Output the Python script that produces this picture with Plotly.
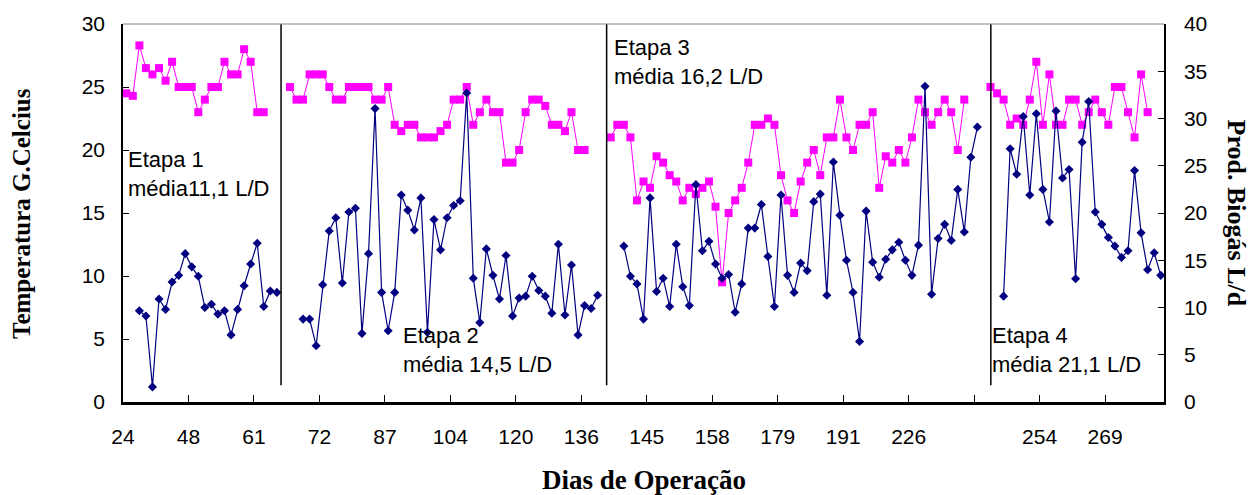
import plotly.graph_objects as go

# ---------------- data ----------------
n_categories = 159
tick_every = 10
tick_labels = ["24", "48", "61", "72", "87", "104", "120", "136", "145",
               "158", "179", "191", "226", "", "254", "269"]

# Temperatura (°C) per stage - left axis
temp_stage1 = [24.5, 24.3, 28.3, 26.5, 26.0, 26.5, 25.5, 27.0, 25.0, 25.0, 25.0,
               23.0, 24.0, 25.0, 25.0, 27.0, 26.0, 26.0, 28.0, 27.0, 23.0, 23.0]
temp_stage2 = [25, 24, 24, 26, 26, 26, 25, 24, 24, 25, 25, 25, 25, 24, 24, 25,
               22, 21.5, 22, 22, 21, 21, 21, 21.5, 22, 24, 24, 25, 22, 23, 24,
               23, 23, 19, 19, 20, 23, 24, 24, 23.5, 22, 22, 21.5, 23, 20, 20]
temp_stage3 = [21, 22, 22, 21, 16, 17.5, 17, 19.5, 19, 18, 17.5, 16, 17, 16.5,
               17, 17.5, 15.5, 9.5, 15, 16, 17, 19, 22, 22, 22.5, 22, 18, 16,
               15, 17.5, 19, 20, 18, 21, 21, 24, 21, 20, 22, 22, 23, 17, 19.5,
               19, 20, 19, 21, 24, 23, 22, 23, 24, 23, 20, 24]
temp_stage4 = [25, 24.5, 24, 22, 22.5, 22, 24, 27, 22, 26, 22, 22, 24, 24, 22,
               23, 24, 23, 22, 25, 25, 23, 21, 26, 23]

# Produção de biogás (L/d) per stage - right axis
bio_stage1 = [9.65, 9.1, 1.6, 10.9, 9.8, 12.7, 13.4, 15.7, 14.3, 13.3, 10.0,
              10.35, 9.3, 9.65, 7.1, 9.8, 12.3, 14.6, 16.8, 10.1, 11.75, 11.6]
bio_stage2 = [8.77, 8.77, 5.96, 12.4, 18.1, 19.5, 12.6, 20.1, 20.5, 7.26, 15.7,
              31.05, 11.6, 7.54, 11.6, 21.9, 20.3, 18.2, 21.6, 7.37, 19.3, 16.1,
              19.5, 20.8, 21.3, 32.7, 13.1, 8.4, 16.2, 13.4, 10.9, 15.5, 9.1,
              11.0, 11.2, 13.3, 11.8, 11.2, 9.4, 16.7, 9.2, 14.5, 7.1, 10.2,
              9.9, 11.3]
bio_stage3 = [16.5, 13.3, 12.5, 8.77, 21.6, 11.7, 13.1, 10.1, 16.7, 12.2, 10.2,
              23.0, 16.0, 17.0, 14.6, 13.1, 13.5, 9.5, 12.5, 18.4, 18.4, 20.9,
              15.4, 10.1, 21.9, 13.4, 11.6, 14.7, 13.9, 21.2, 22.0, 11.3, 25.4,
              19.75, 15.0, 11.6, 6.4, 20.2, 14.8, 13.2, 15.1, 16.1, 16.9, 15.0,
              13.4, 16.6, 33.4, 11.4, 17.3, 18.8, 17.1, 22.5, 18.0, 25.9, 29.1]
bio_stage4 = [11.2, 26.8, 24.1, 30.2, 21.9, 30.5, 22.5, 19.05, 30.8, 23.7, 24.6,
              13.05, 27.5, 31.8, 20.1, 18.8, 17.4, 16.5, 15.3, 16.0, 24.5, 17.9,
              14.0, 15.8, 13.4]

temp_start = [0, 25, 74, 132]     # first category index of each stage
bio_start = [2, 27, 76, 134]
stage_breaks = [23.64, 73.37, 132.05]   # category positions of the divider lines

stage_text = ["Etapa 1<br>média11,1 L/D", "Etapa 2<br>média 14,5 L/D",
              "Etapa 3<br>média 16,2 L/D", "Etapa 4<br>média 21,1 L/D"]


def build(stages, starts):
    xs, ys = [], []
    for vals, s in zip(stages, starts):
        if xs:
            xs.append(None)
            ys.append(None)
        xs.extend(range(s, s + len(vals)))
        ys.extend(vals)
    return xs, ys


tx, ty = build([temp_stage1, temp_stage2, temp_stage3, temp_stage4], temp_start)
bx, by = build([bio_stage1, bio_stage2, bio_stage3, bio_stage4], bio_start)

SANS = "Liberation Sans, Arial, sans-serif"
SERIF = "Liberation Serif, Times New Roman, serif"

fig = go.Figure()
fig.add_trace(go.Scatter(
    x=tx, y=ty, mode="lines+markers", yaxis="y", connectgaps=False,
    line=dict(color="#FF00FF", width=1),
    marker=dict(symbol="square", size=8, color="#FF00FF"),
    name="Temperatura", showlegend=False))
fig.add_trace(go.Scatter(
    x=bx, y=by, mode="lines+markers", yaxis="y2", connectgaps=False,
    line=dict(color="#000080", width=1.2),
    marker=dict(symbol="diamond", size=7, color="#000080"),
    name="Biogás", showlegend=False))

tickvals = [-0.5 + tick_every * k for k in range(len(tick_labels))]

fig.update_layout(
    width=1252, height=495,
    margin=dict(l=123, r=88, t=22, b=93),
    paper_bgcolor="white", plot_bgcolor="white",
    font=dict(family=SANS, size=21, color="black"),
    xaxis=dict(range=[-0.5, n_categories - 0.5], tickvals=tickvals,
               ticktext=tick_labels, ticks="inside", ticklen=7,
               tickcolor="black", tickwidth=1, showline=True,
               linecolor="black", linewidth=2.5, showgrid=False,
               zeroline=False, tickfont=dict(family=SANS, size=21),
               ticklabelstandoff=14),
    yaxis=dict(range=[0, 30], dtick=5, ticks="inside", ticklen=6,
               tickcolor="black", tickwidth=1, showline=True,
               linecolor="black", linewidth=1.5, showgrid=False,
               zeroline=False, tickfont=dict(family=SANS, size=21),
               ticklabelstandoff=12),
    yaxis2=dict(range=[0, 40], dtick=5, overlaying="y", side="right",
                ticks="inside", ticklen=6, tickcolor="black", tickwidth=1,
                showline=True, linecolor="black", linewidth=1.5,
                showgrid=False, zeroline=False,
                tickfont=dict(family=SANS, size=21), ticklabelstandoff=14),
)

# divider lines between stages
for xb in stage_breaks:
    fig.add_shape(type="line", xref="x", yref="paper", x0=xb, x1=xb,
                  y0=0.044, y1=1, line=dict(color="black", width=1.5))
# top frame line
fig.add_shape(type="line", xref="paper", yref="paper", x0=0, x1=1, y0=1, y1=1,
              line=dict(color="#808080", width=1))

# stage annotations
stage_pos = [(0.003, 0.602), (0.267, 0.137), (0.470, 0.900), (0.833, 0.137)]
for txt, (px, py) in zip(stage_text, stage_pos):
    fig.add_annotation(text=txt, xref="paper", yref="paper", x=px, y=py,
                       xanchor="left", yanchor="middle", showarrow=False,
                       align="left", font=dict(family=SANS, size=22, color="black"))

# axis titles
fig.add_annotation(text="<b>Dias de Operação</b>", xref="paper", yref="paper",
                   x=0.5, y=-0.206, xanchor="center", yanchor="middle",
                   showarrow=False, font=dict(family=SERIF, size=27))
fig.add_annotation(text="<b>Temperatura G.Celcius</b>", xref="paper", yref="paper",
                   x=-0.098, y=0.5, xanchor="center", yanchor="middle",
                   textangle=-90, showarrow=False, font=dict(family=SERIF, size=25))
fig.add_annotation(text="<b>Prod. Biogás L/d</b>", xref="paper", yref="paper",
                   x=1.0705, y=0.5, xanchor="center", yanchor="middle",
                   textangle=90, showarrow=False, font=dict(family=SERIF, size=26))

fig.write_html("out.html")
